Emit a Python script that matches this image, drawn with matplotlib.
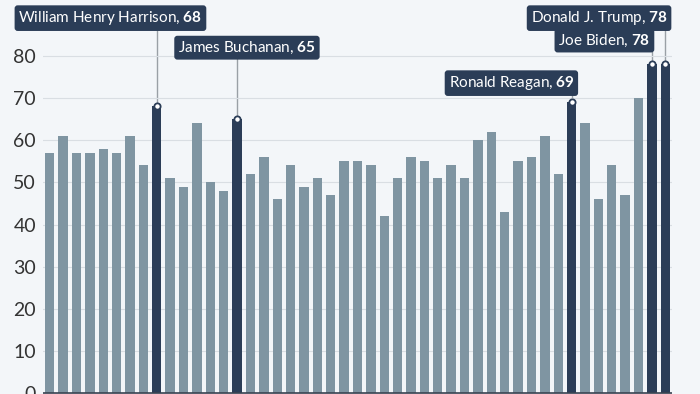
import matplotlib.pyplot as plt

# age at inauguration, Washington .. Trump (2nd term)
ages = [57, 61, 57, 57, 58, 57, 61, 54, 68, 51, 49, 64, 50, 48, 65, 52,
        56, 46, 54, 49, 51, 47, 55, 55, 54, 42, 51, 56, 55, 51, 54, 51,
        60, 62, 43, 55, 56, 61, 52, 69, 64, 46, 54, 47, 70, 78, 78]

# highlighted bars and where their callout boxes sit (data coords, box centre)
highlight_idx = [8, 14, 39, 46, 45]
highlight_names = ["William Henry Harrison", "James Buchanan", "Ronald Reagan",
                   "Donald J. Trump", "Joe Biden"]
label_x = [4.54, 14.74, 34.5, 41.05, 41.45]
label_y = [88.9, 81.9, 73.5, 88.9, 83.6]

light = "#7f95a2"
dark = "#2b3d57"
bg = "#f3f6f9"

plt.rcParams['font.family'] = ['Lato', 'DejaVu Sans']
plt.rcParams['mathtext.fontset'] = 'custom'
plt.rcParams['mathtext.rm'] = 'Lato'
plt.rcParams['mathtext.bf'] = 'Lato:bold'

fig = plt.figure(figsize=(7, 3.94), dpi=100, facecolor=bg)
ax = fig.add_axes([43 / 700, 0, 629 / 700, 1])
ax.set_facecolor(bg)

x = list(range(len(ages)))
colors = [dark if i in highlight_idx else light for i in x]
ax.bar(x, ages, width=0.7, color=colors, zorder=2)

ax.set_xlim(-0.5, len(ages) - 0.5)
ax.set_ylim(-0.15, 93.2)
ax.set_yticks(range(0, 81, 10))
ax.yaxis.grid(True, color="#d9dee3", linewidth=0.8, zorder=0)
ax.set_xticks([])
for s in ["top", "right", "left"]:
    ax.spines[s].set_visible(False)
ax.spines["bottom"].set_visible(False)
ax.tick_params(axis="y", length=0, labelsize=14, labelcolor="#333333", pad=5)
ax.axhline(0, color="#3a4452", lw=1.2, zorder=3)

for i, name, lx, ly in zip(highlight_idx, highlight_names, label_x, label_y):
    ax.plot([i, i], [ages[i], ly], color="#9aa0a6", lw=1, zorder=1)
    ax.plot(i, ages[i], 'o', ms=4.5, mfc="white", mec=dark, mew=1.3, zorder=4)
    ax.text(lx, ly, f"{name}, $\\mathbf{{{ages[i]}}}$", ha="center", va="center",
            fontsize=11, color="white", zorder=5,
            bbox=dict(boxstyle="round,pad=0.25,rounding_size=0.2", fc=dark, ec="none"))

fig.savefig("out.png", dpi=100, facecolor=bg)
